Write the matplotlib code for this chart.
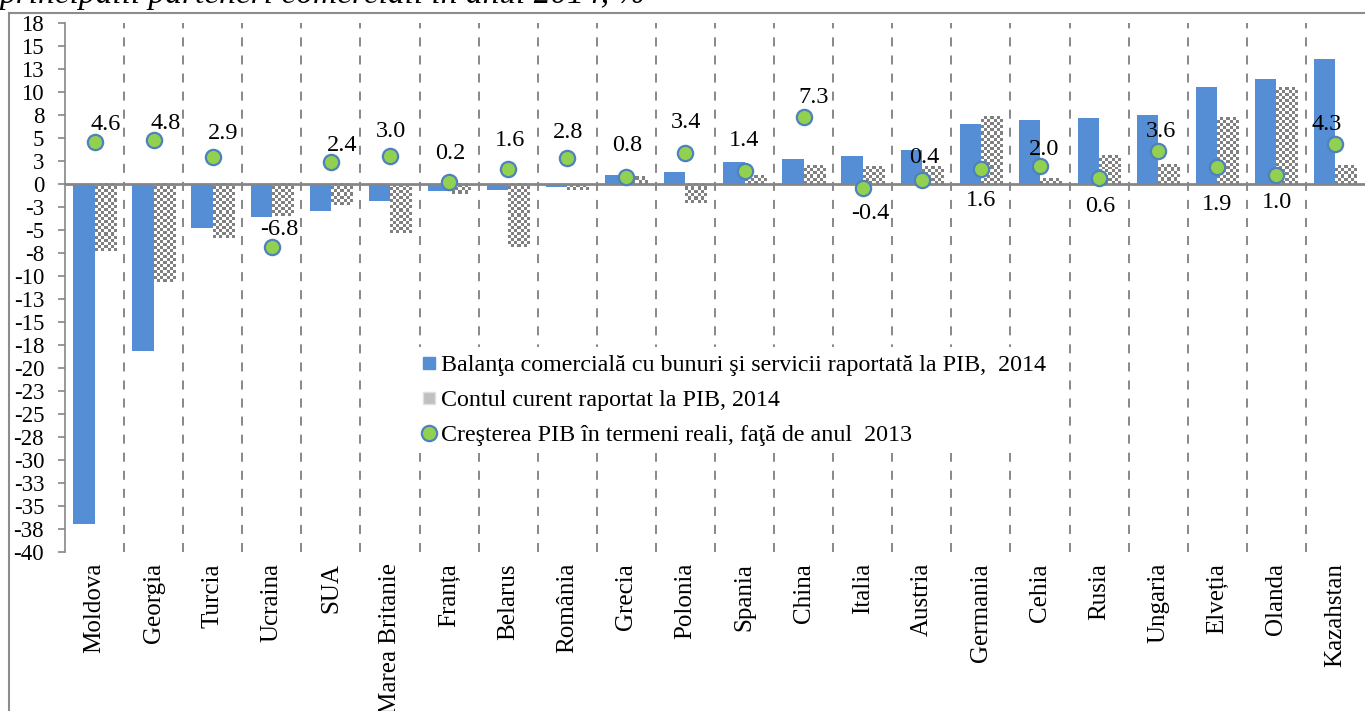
"""Balanța comercială, contul curent și creșterea PIB - principalii parteneri, 2014."""

import numpy as np
import matplotlib
matplotlib.use('Agg')
import matplotlib.pyplot as plt
from matplotlib.colors import ListedColormap
from matplotlib.lines import Line2D

plt.rcParams['font.family'] = ['Liberation Serif', 'DejaVu Serif']

# === Data ===
countries = ['Moldova', 'Georgia', 'Turcia', 'Ucraina', 'SUA', 'Marea Britanie',
             'Franța', 'Belarus', 'România', 'Grecia', 'Polonia', 'Spania', 'China',
             'Italia', 'Austria', 'Germania', 'Cehia', 'Rusia', 'Ungaria', 'Elveția',
             'Olanda', 'Kazahstan']
trade_balance = [-37.0, -18.2, -4.8, -3.6, -2.9, -1.9, -0.8, -0.6, -0.3, 1.0, 1.3,
                 2.4, 2.7, 3.0, 3.7, 6.5, 7.0, 7.2, 7.5, 10.5, 11.4, 13.6]
current_account = [-7.3, -10.7, -5.9, -3.5, -2.3, -5.3, -1.1, -6.9, -0.6, 0.8, -2.1,
                   0.9, 2.0, 1.9, 1.9, 7.3, 0.6, 3.1, 2.1, 7.2, 10.5, 2.0]
gdp_growth = [4.6, 4.8, 2.9, -6.8, 2.4, 3.0, 0.2, 1.6, 2.8, 0.8, 3.4,
              1.4, 7.3, -0.4, 0.4, 1.6, 2.0, 0.6, 3.6, 1.9, 1.0, 4.3]

legend_labels = ['Balanţa comercială cu bunuri şi servicii raportată la PIB,  2014',
                 'Contul curent raportat la PIB, 2014',
                 'Creşterea PIB în termeni reali, faţă de anul  2013']
title = 'principalii parteneri comerciali în anul 2014, %'

# label offsets (pixels) relative to each dot
label_dx = [11, 12, 10, 7, 11, 1, 1, 2, 1, 1, 1, 0, 10, 8, 2, 0, 4, 1, 3, 0, 1, -9]
label_dy = [17, 16, 24, 17, 16, 25, 29, 29, 26, 31, 30, 31, 19, -26, 23, -31, 16,
            -28, 19, -38, -28, 20]

BLUE = '#558ED5'
GREEN = '#92D050'
EDGE = '#4F81BD'
GRID = '#7F7F7F'
AXIS = '#868686'
YMIN, YMAX = -40, 17.5

fig = plt.figure(figsize=(13.65, 7.11), dpi=100)
ax = fig.add_axes([65 / 1365, 1 - 552 / 711, 1300 / 1365, 529 / 711])

x = np.arange(len(countries))
w = 0.36

ax.vlines(np.arange(0.5, len(countries) - 1), YMIN, YMAX, colors=GRID,
          linestyles=(0, (5, 5)), linewidth=1.3, zorder=1)

ax.bar(x - w / 2, trade_balance, width=w, color=BLUE, zorder=2)
ca_bars = ax.bar(x + w / 2, current_account, width=w, facecolor='none',
                 edgecolor='none', zorder=2)

ax.set_xlim(-0.5, len(countries) - 0.5)
ax.set_ylim(YMIN, YMAX)

# checkerboard fill for the current-account bars
fig.canvas.draw()
px_per_unit = abs(ax.transData.transform((0, 1))[1] - ax.transData.transform((0, 0))[1])
px_per_cat = abs(ax.transData.transform((1, 0))[0] - ax.transData.transform((0, 0))[0])
cell = 3.0
checker = ListedColormap(['#FFFFFF', '#808080'])
for rect in ca_bars:
    x0, y0 = rect.get_x(), rect.get_y()
    bw, bh = rect.get_width(), rect.get_height()
    ncols = max(1, int(round(bw * px_per_cat / cell)))
    nrows = max(1, int(round(abs(bh) * px_per_unit / cell)))
    ii, jj = np.indices((nrows, ncols))
    ax.imshow((ii + jj) % 2, cmap=checker, interpolation='nearest', aspect='auto',
              extent=(x0, x0 + bw, min(y0, y0 + bh), max(y0, y0 + bh)), zorder=2)
ax.set_xlim(-0.5, len(countries) - 0.5)
ax.set_ylim(YMIN, YMAX)

ax.axhline(0, color=AXIS, linewidth=2, zorder=3)

ax.plot(x, gdp_growth, 'o', markersize=11, markerfacecolor=GREEN,
        markeredgecolor=EDGE, markeredgewidth=1.6, linestyle='none', zorder=4)
for xi, v, dx, dy in zip(x, gdp_growth, label_dx, label_dy):
    ax.annotate(f'{v:.1f}', (xi, v), xytext=(dx, dy), textcoords='offset pixels',
                ha='center', va='center', fontsize=17.5, zorder=5)

# axes styling
yt = np.arange(YMIN, YMAX + 0.1, 2.5)
ax.set_yticks(yt)
ax.set_yticklabels([str(int(np.sign(v) * np.floor(abs(v) + 0.5))) for v in yt],
                   fontsize=16.5)
ax.set_xticks(x)
ax.set_xticklabels(countries, rotation=90, fontsize=18, va='top')
ax.tick_params(axis='x', length=0, pad=8)
ax.tick_params(axis='y', direction='out', length=5, color=AXIS, width=1.2, pad=10)
for s in ['top', 'right', 'bottom']:
    ax.spines[s].set_visible(False)
ax.spines['left'].set_color(AXIS)
ax.spines['left'].set_linewidth(1.2)

handles = [
    Line2D([], [], marker='s', linestyle='none', markersize=9,
           markerfacecolor=BLUE, markeredgecolor=BLUE),
    Line2D([], [], marker='s', linestyle='none', markersize=8,
           markerfacecolor='#C0C0C0', markeredgecolor='#E0E0E0'),
    Line2D([], [], marker='o', linestyle='none', markersize=11,
           markerfacecolor=GREEN, markeredgecolor=EDGE, markeredgewidth=1.6),
]
leg = ax.legend(handles, legend_labels, loc='upper left',
                bbox_to_anchor=(0.259, 0.41), fontsize=17.3, frameon=True,
                facecolor='white', edgecolor='none', framealpha=1, fancybox=False,
                handlelength=0.7, handletextpad=0.15, labelspacing=0.55,
                borderpad=0.3)
leg.set_zorder(6)

# chart-area frame (cropped on the right and bottom)
fig.add_artist(Line2D([9 / 1365, 1], [1 - 13 / 711, 1 - 13 / 711],
                      color='#8C8C8C', linewidth=1.5))
fig.add_artist(Line2D([9 / 1365, 9 / 1365], [0, 1 - 13 / 711],
                      color='#8C8C8C', linewidth=1.5))

fig.text(0.0, 1 - 3 / 711, title, style='italic', fontsize=24, va='baseline')

fig.savefig('out.png', dpi=100)
